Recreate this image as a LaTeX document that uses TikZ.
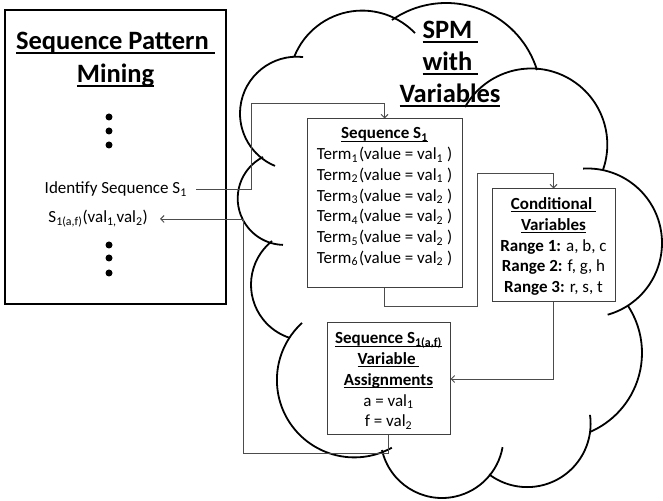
\documentclass[tikz,border=0pt]{standalone}
\usepackage{fontspec}
\setmainfont{Carlito}
\usetikzlibrary{arrows.meta,positioning}

% underline at a fixed depth, also under trailing spaces
\newsavebox\ulbox
\newcommand\ulbar[1]{\sbox\ulbox{#1}\rlap{\rule[-0.16em]{\wd\ulbox}{0.07em}}\usebox\ulbox}

\begin{document}
\begin{tikzpicture}[x=1pt,y=1pt,
    >={Straight Barb[length=3.5pt,width=7pt]},
    cloudline/.style={line width=1.8pt},
    frame/.style={draw, line width=1.6pt},
    itembox/.style={draw=black!75, line width=1pt, inner sep=0pt},
    link/.style={draw=black!70, line width=0.9pt},
    title/.style={font=\fontsize{26.5}{31}\selectfont\bfseries, inner sep=0pt, anchor=base},
    body/.style={font=\fontsize{17}{20}\selectfont, inner sep=0pt, anchor=base},
    dot/.style={circle, fill, inner sep=0pt, minimum size=7pt}]
  \useasboundingbox (0,0) rectangle (663,500);

  % left panel
  \node[frame, minimum width=221pt, minimum height=294pt] (spm) at (115.5,343) {};
  \node[title] (spmtitle) at (115.5,450) {\ulbar{Sequence Pattern\ }};
  \node[title] (spmtitle2) at (115.5,417) {\ulbar{Mining}};
  \foreach \y [count=\k] in {383,369,355}
    \node[dot] (dotA\k) at (109,\y) {};
  \foreach \y [count=\k] in {255,242,227}
    \node[dot] (dotB\k) at (109,\y) {};
  \node[body, anchor=base east, inner xsep=9pt] (ident) at (196,306) {Identify Sequence S\textsubscript{1}};
  \node[body, anchor=base east, inner xsep=12pt] (res) at (160,277) {S\textsubscript{1(a,f)}(val\textsubscript{1,}val\textsubscript{2})};

  % cloud outline, one arc per puff
  \foreach \cx/\cy/\rad/\angA/\angB in {
      296.8/386.5/56.8/83.7/247.4, 284.2/301.6/46.5/117.1/268.5,
      306.9/215.3/55.9/128.6/252.4, 354.3/120.0/77.4/132.5/299,
      442.0/63.5/61.5/-167.3/-10, 527.2/76.3/63.4/-127/8,
      555.9/147.1/86.1/33.5/-66.7, 587.5/257.0/74.5/93.4/-74.3,
      531.2/355.4/76.1/150.4/-19.5, 446.2/402.0/95/124.8/17.1,
      362.2/416.3/73.1/158/43.8}
    \draw[cloudline] (\cx,\cy) ++(\angA:\rad pt) arc[start angle=\angA, end angle=\angB, radius=\rad pt];

  \node[title] (cloudA) at (450.5,461) {\ulbar{SPM\ }};
  \node[title] (cloudB) at (450.5,429) {\ulbar{with\ }};
  \node[title] (cloudC) at (450,397) {\ulbar{Variables}};

  % sequence box
  \node[itembox, minimum width=155pt, minimum height=169pt] (seq) at (384.5,296.5) {};
  \node[body] (seqhead) at (384.5,361) {\ulbar{\textbf{Sequence S\textsubscript{1}}}};
  \foreach \v [count=\k] in {1,1,2,2,2,2}
    \node[body] (term\k) at (384.5,{361-20.7*\k}) {Term\textsubscript{\k}\kern1pt(value = val\textsubscript{\v}\ )};

  % conditional variables
  \node[itembox, minimum width=123pt, minimum height=113pt] (cond) at (553.5,254.5) {};
  \foreach \txt [count=\k] in {{\ulbar{\textbf{Conditional\ }}}, {\ulbar{\textbf{Variables}}},
      {\textbf{Range 1:} a, b, c}, {\textbf{Range 2:} f, g, h}, {\textbf{Range 3:} r, s, t}}
    \node[body] (cond\k) at (553.5,{311-20.7*\k}) {\txt};

  % variable assignments
  \node[itembox, minimum width=123pt, minimum height=112pt] (asg) at (388.5,121) {};
  \foreach \txt [count=\k] in {{\ulbar{\textbf{Sequence S\textsubscript{1(a,f)}}}}, {\ulbar{\textbf{Variable\ }}},
      {\ulbar{\textbf{Assignments}}}, {a = val\textsubscript{1}}, {f = val\textsubscript{2}}}
    \node[body] (asg\k) at (388.5,{176.7-20.7*\k}) {\txt};

  % connectors
  \coordinate (hookA) at (251,397);
  \coordinate (hookB) at (477,194);
  \coordinate (hookC) at (477,327);
  \coordinate (hookD) at (243,47);
  \draw[link,->] (ident.east) -| (hookA) -| (seq.north);
  \draw[link,->] (seq.south) |- (hookB) -- (hookC) -| (cond.north);
  \draw[link,->] (cond.south) |- (asg.east);
  \draw[link,->] (asg.south) |- (hookD) |- (res.east);
\end{tikzpicture}
\end{document}
